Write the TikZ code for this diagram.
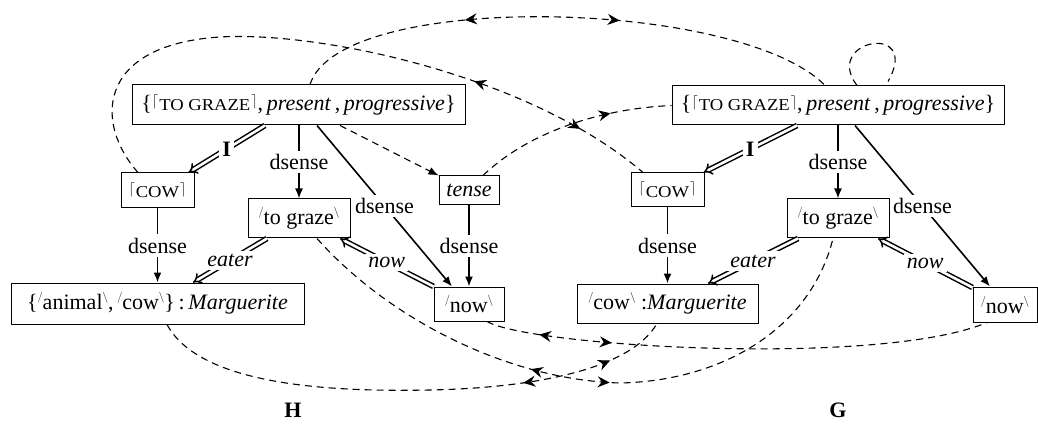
\documentclass[tikz,border=0pt]{standalone}
\usepackage{fontspec}
\setmainfont{Liberation Serif}
\usetikzlibrary{arrows.meta,decorations.markings,calc}
\newcommand{\fsc}[1]{{\fontsize{16.6}{18}\selectfont\addfontfeatures{FakeStretch=1.12}#1}}
\newcommand{\mylc}{\raisebox{4.5pt}{\scalebox{0.68}{$\lceil$}}\kern1pt}
\newcommand{\myrc}{\kern1pt\raisebox{4.5pt}{\scalebox{0.68}{$\rceil$}}}
\newcommand{\msl}{\raisebox{9pt}{\scalebox{0.53}{$/$}}}
\newcommand{\mbs}{\raisebox{9pt}{\scalebox{0.53}{$\backslash$}}}
\begin{document}
\begin{tikzpicture}[x=1pt,y=-1pt,
  font=\fontsize{22}{26}\selectfont,
  box/.style={draw, line width=1pt, inner sep=0pt},
  lab/.style={fill=white},
  sol/.style={line width=1.6pt, -{Latex[length=10pt,width=8pt]}},
  dbl/.style={double, double distance=2.6pt, line width=1.5pt, -{Implies}},
  corr/.style={line width=1.1pt, dash pattern=on 7pt off 5pt},
  fw/.style={postaction={decorate, decoration={markings, mark=at position #1 with {\arrow{Stealth[length=12pt,width=11pt,inset=4pt]}}}}},
  bw/.style={postaction={decorate, decoration={markings, mark=at position #1 with {\arrowreversed{Stealth[length=12pt,width=11pt,inset=4pt]}}}}}
]
\useasboundingbox (0,0) rectangle (1038,430);

% H nodes
\node[box, minimum width=333pt, minimum height=40pt] (htop) at (298.5,105) {\{\mylc\fsc{TO GRAZE}\myrc,\,\textit{present}\,,\,\textit{progressive}\}};
\node[box, minimum width=73pt, minimum height=35pt] (hcow) at (157.5,190.5) {\mylc\fsc{COW}\myrc};
\node[box, minimum width=102pt, minimum height=39pt] (hgraze) at (299,218.5) {\msl to graze\mbs};
\node[box, minimum width=60pt, minimum height=29pt] (htense) at (469,190.5) {\textit{tense}};
\node[box, minimum width=293pt, minimum height=41pt] (hmarg) at (157.5,303.5) {\{\msl animal\mbs,\,\msl cow\mbs\}\,:\,\textit{Marguerite}};
\node[box, minimum width=70pt, minimum height=34pt] (hnow) at (469,304) {\msl now\mbs};
% G nodes
\node[box, minimum width=332pt, minimum height=39pt] (gtop) at (838,105.5) {\{\mylc\fsc{TO GRAZE}\myrc,\,\textit{present}\,,\,\textit{progressive}\}};
\node[box, minimum width=73pt, minimum height=34pt] (gcow) at (667.5,190) {\mylc\fsc{COW}\myrc};
\node[box, minimum width=102pt, minimum height=39pt] (ggraze) at (838,218.5) {\msl to graze\mbs};
\node[box, minimum width=181pt, minimum height=39pt] (gmarg) at (667.5,303.5) {\msl cow\mbs\ :\textit{Marguerite}};
\node[box, minimum width=64pt, minimum height=35pt] (gnow) at (1005,304.5) {\msl now\mbs};
\node (hlab) at (293,410) {\textbf{H}};
\node (glab) at (838,410) {\textbf{G}};

% H edges
\draw[dbl] ([xshift=-33.5pt]htop.south) -- node[lab]{\textbf{I}} ([xshift=-6pt]hcow.north east);
\draw[sol] (htop.south -| hgraze.north) -- node[lab]{dsense} (hgraze.north);
\draw[sol] ([xshift=18.5pt]htop.south) -- node[lab]{dsense} ([xshift=-17pt]hnow.north);
\draw[corr, -{Latex[length=10pt,width=8pt]}] ([xshift=41.5pt]htop.south) -- (htense.north west);
\draw[sol] (hcow.south) -- node[lab]{dsense} (hcow.south |- hmarg.north);
\draw[sol] (htense.south) -- node[lab]{dsense} (hnow.north);
\draw[dbl] ([xshift=-32pt]hgraze.south) -- node[lab]{\textit{eater}} ([xshift=35.5pt]hmarg.north);
\draw[dbl] (hnow.north west) -- node[lab]{\textit{now}} ([xshift=41pt]hgraze.south);

% G edges
\draw[dbl] ([xshift=-41pt]gtop.south) -- node[lab]{\textbf{I}} ([xshift=-1pt]gcow.north east);
\draw[sol] (gtop.south -| ggraze.north) -- node[lab]{dsense} (ggraze.north);
\draw[sol] ([xshift=17pt]gtop.south) -- node[lab]{dsense} ([xshift=-15pt]gnow.north);
\draw[sol] (gcow.south) -- node[lab]{dsense} (gcow.south |- gmarg.north);
\draw[dbl] ([xshift=-40pt]ggraze.south) -- node[lab]{\textit{eater}} ([xshift=40.5pt]gmarg.north);
\draw[dbl] ([yshift=-1pt]gnow.north west) -- node[lab]{\textit{now}} ([xshift=40pt]ggraze.south);

% correspondences
\coordinate (cB) at (220,37);
\coordinate (cE) at (430,390);
\coordinate (cF) at (620,383);
\draw[corr, bw=175pt, fw=330pt] ([xshift=11.5pt]htop.north) .. controls +(30,-95) and +(-85,-87) .. ([xshift=-13pt]gtop.north);
\draw[corr, bw=0.71, fw=0.885] ([xshift=-19.5pt]hcow.north) .. controls +(-43,-48) and +(-125,8) .. (cB) .. controls +(100,-6) and +(-113,-97) .. ([xshift=-24.5pt]gcow.north);
\draw[corr, fw=0.7] ([xshift=14pt]htense.north) .. controls +(47,-45) and +(-68,3) .. (gtop.west);
\draw[corr, bw=54pt, fw=127pt] ([xshift=18pt]hnow.south) .. controls +(43,25) and +(-107,45) .. ([xshift=-18pt]gnow.south);
\draw[corr, bw=375pt, fw=465pt] ([xshift=9.5pt]hmarg.south) .. controls +(33,61) and +(-100,2) .. (cE) .. controls +(100,-2) and +(-27,47) .. ([xshift=-10.5pt]gmarg.south);
\draw[corr, bw=254pt, fw=334pt] ([xshift=18pt]hgraze.south) .. controls +(73,82) and +(-110,-3) .. (cF) .. controls +(100,-2) and +(-23,92) .. ([xshift=-5pt]ggraze.south);
\draw[corr] ([xshift=19pt]gtop.north) .. controls +(-35,-46) and +(34,-60) .. ([xshift=50pt,yshift=4pt]gtop.north);
\end{tikzpicture}
\end{document}
